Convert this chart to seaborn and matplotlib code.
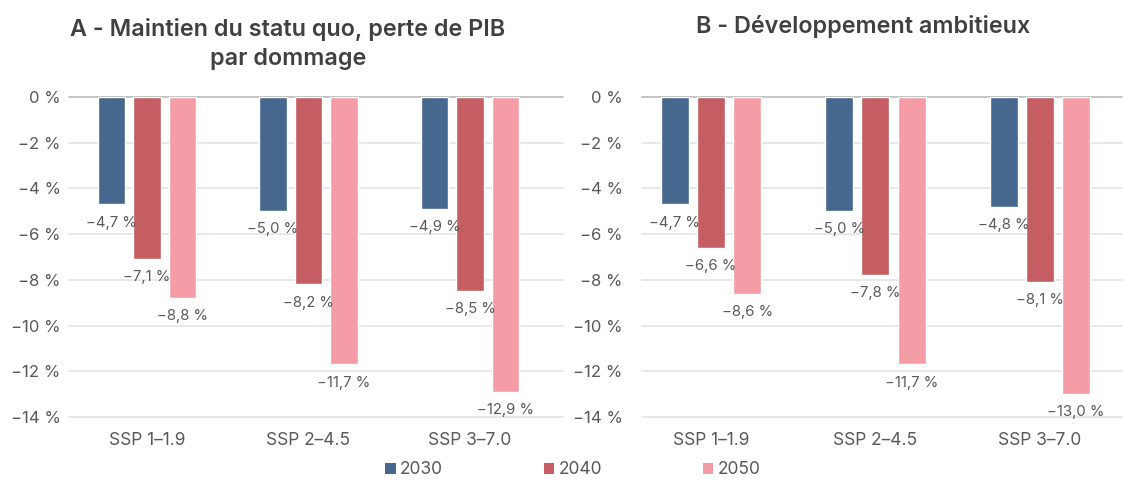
import numpy as np
import pandas as pd
import matplotlib
matplotlib.use("Agg")
import matplotlib.pyplot as plt
from matplotlib.patches import Patch
from matplotlib.ticker import FuncFormatter
import seaborn as sns

scenarios = ["SSP 1–1.9", "SSP 2–4.5", "SSP 3–7.0"]
years = ["2030", "2040", "2050"]
a_2030 = [-4.7, -5.0, -4.9]
a_2040 = [-7.1, -8.2, -8.5]
a_2050 = [-8.8, -11.7, -12.9]
b_2030 = [-4.7, -5.0, -4.8]
b_2040 = [-6.6, -7.8, -8.1]
b_2050 = [-8.6, -11.7, -13.0]
title_a = "A - Maintien du statu quo, perte de PIB\npar dommage"
title_b = "B - Développement ambitieux"
yticks = list(range(-14, 1, 2))
colors = ["#46688F", "#C45E62", "#F59DA6"]

sns.set_theme(style="white")
plt.rcParams["font.family"] = ["Inter", "DejaVu Sans"]
TXT = "#595959"


def fmt_pct(v, dec=1):
    s = f"{v:.{dec}f}".replace(".", ",").replace("-", "\u2212")
    if s in ("\u22120", "\u22120,0"):
        s = s.replace("\u2212", "")
    return s + " %"


def make_df(v30, v40, v50):
    rows = []
    for yr, vals in zip(years, [v30, v40, v50]):
        for sc, v in zip(scenarios, vals):
            rows.append({"scenario": sc, "year": yr, "value": v})
    return pd.DataFrame(rows)


fig = plt.figure(figsize=(11.24, 4.8), dpi=100)
W, H = 1124, 480
axA = fig.add_axes([69 / W, 1 - 417 / H, (563 - 69) / W, (417 - 97) / H])
axB = fig.add_axes([642 / W, 1 - 417 / H, (1122 - 642) / W, (417 - 97) / H])

panels = [
    (axA, make_df(a_2030, a_2040, a_2050), (-0.483, 2.576), 6),
    (axB, make_df(b_2030, b_2040, b_2050), (-0.42, 2.50), 14),
]

for ax, df, xl, ypad in panels:
    sns.barplot(data=df, x="scenario", y="value", hue="year", order=scenarios,
                hue_order=years, palette=colors, width=0.66, gap=0.227,
                saturation=1, ax=ax, legend=False, errorbar=None)
    for cont in ax.containers:
        ax.bar_label(cont, labels=[fmt_pct(b.get_height()) for b in cont],
                     padding=8, fontsize=10.7, color=TXT)
    ax.set_ylim(-14, 0)
    ax.set_xlim(*xl)
    ax.set_yticks(yticks)
    ax.yaxis.set_major_formatter(FuncFormatter(lambda v, p: fmt_pct(v, 0)))
    ax.set_axisbelow(True)
    ax.grid(axis="y", color="#E6E6E6", lw=1.3)
    ax.grid(axis="x", visible=False)
    for gl, t in zip(ax.get_ygridlines(), ax.get_yticks()):
        if abs(t) < 1e-9:
            gl.set_color("#BFBFBF")
        gl.set_clip_on(False)
    for s in ax.spines.values():
        s.set_visible(False)
    ax.tick_params(axis="y", length=0, pad=ypad, labelsize=12, labelcolor=TXT)
    ax.tick_params(axis="x", length=0, pad=11, labelsize=12.5, labelcolor=TXT)
    ax.set_xlabel("")
    ax.set_ylabel("")

fig.text(288 / W, 1 - 44 / H, title_a, ha="center", va="center", fontsize=16.8,
         fontweight="semibold", color="#404040", linespacing=1.4)
fig.text(863 / W, 1 - 26 / H, title_b, ha="center", va="center", fontsize=16.8,
         fontweight="semibold", color="#404040")

handles = [Patch(facecolor=c, edgecolor="none", label=y) for c, y in zip(colors, years)]
fig.legend(handles=handles, loc="center", bbox_to_anchor=(573 / W, 1 - 470 / H),
           ncol=3, frameon=False, fontsize=12.5, handlelength=0.6, handleheight=0.6,
           handletextpad=0.25, columnspacing=5.8, labelcolor=TXT)

fig.savefig("out.png", dpi=100)
